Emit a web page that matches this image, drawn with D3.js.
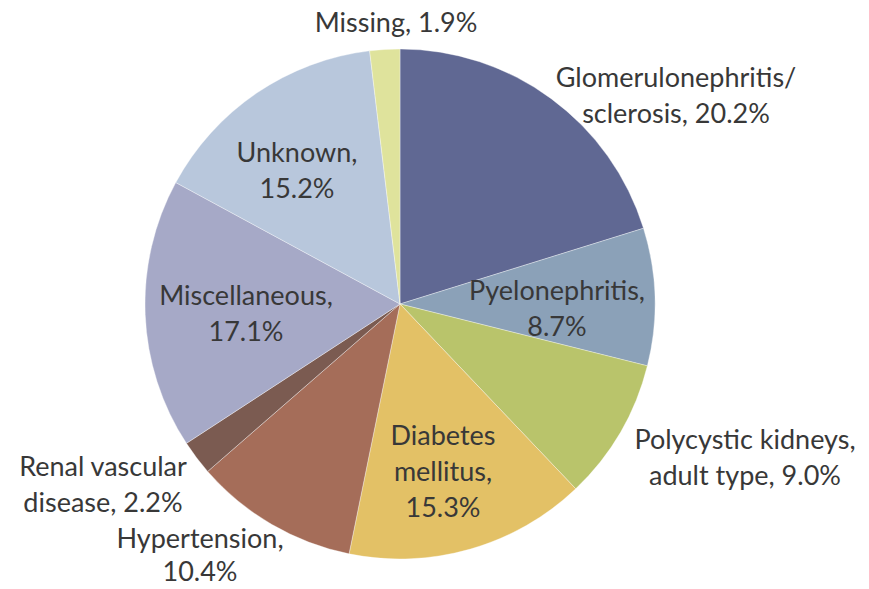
<!DOCTYPE html>
<html><head><meta charset="utf-8">
<script src="https://cdn.jsdelivr.net/npm/d3@7"></script>
<style>html,body{margin:0;padding:0;background:#fff;}</style>
</head><body>
<svg id="chart" width="869" height="589"></svg>
<script>
const categories = ["Glomerulonephritis/ sclerosis","Pyelonephritis","Polycystic kidneys, adult type","Diabetes mellitus","Hypertension","Renal vascular disease","Miscellaneous","Unknown","Missing"];
const values = [20.2, 8.7, 9.0, 15.3, 10.4, 2.2, 17.1, 15.2, 1.9];
const labelLines = [
  ["Glomerulonephritis/","sclerosis, 20.2%"],
  ["Pyelonephritis,","8.7%"],
  ["Polycystic kidneys,","adult type, 9.0%"],
  ["Diabetes","mellitus,","15.3%"],
  ["Hypertension,","10.4%"],
  ["Renal vascular","disease, 2.2%"],
  ["Miscellaneous,","17.1%"],
  ["Unknown,","15.2%"],
  ["Missing, 1.9%"]
];
const colors = ["#606893","#8ba1b8","#b9c46b","#e3c166","#a56d59","#7b5b51","#a6a9c7","#b8c7dc","#dfe39c"];
// label anchor (centre of text block) relative to pie centre
const labelPos = [[276,-208],[157,5],[345,154],[43,168],[-200,251],[-297,181],[-154,10],[-103,-133],[-4,-281]];

const cx = 400, cy = 304, R = 255;
const svg = d3.select("#chart");
const g = svg.append("g").attr("transform", `translate(${cx},${cy})`);
const pie = d3.pie().sort(null).value(d => d)(values);
const arc = d3.arc().innerRadius(0).outerRadius(R);
g.selectAll("path").data(pie).enter().append("path")
  .attr("d", arc)
  .attr("fill", (d,i) => colors[i])
  .attr("stroke", "rgba(255,255,255,0.35)")
  .attr("stroke-width", 1);

const lh = 36;
const lab = g.selectAll("text.lab").data(labelLines).enter().append("text")
  .attr("class","lab")
  .attr("text-anchor","middle")
  .attr("font-family","Lato, 'Open Sans', sans-serif")
  .attr("font-size", 27)
  .attr("fill", "#383838");
lab.each(function(lines, i){
  const t = d3.select(this);
  const [x, y] = labelPos[i];
  const l = (i === 4) ? 33 : lh;
  const y0 = y - (lines.length-1)*l/2;
  lines.forEach((s, k) => {
    t.append("tspan").attr("x", x).attr("y", y0 + k*l).attr("dy","0.35em").text(s);
  });
});
</script>
</body></html>
